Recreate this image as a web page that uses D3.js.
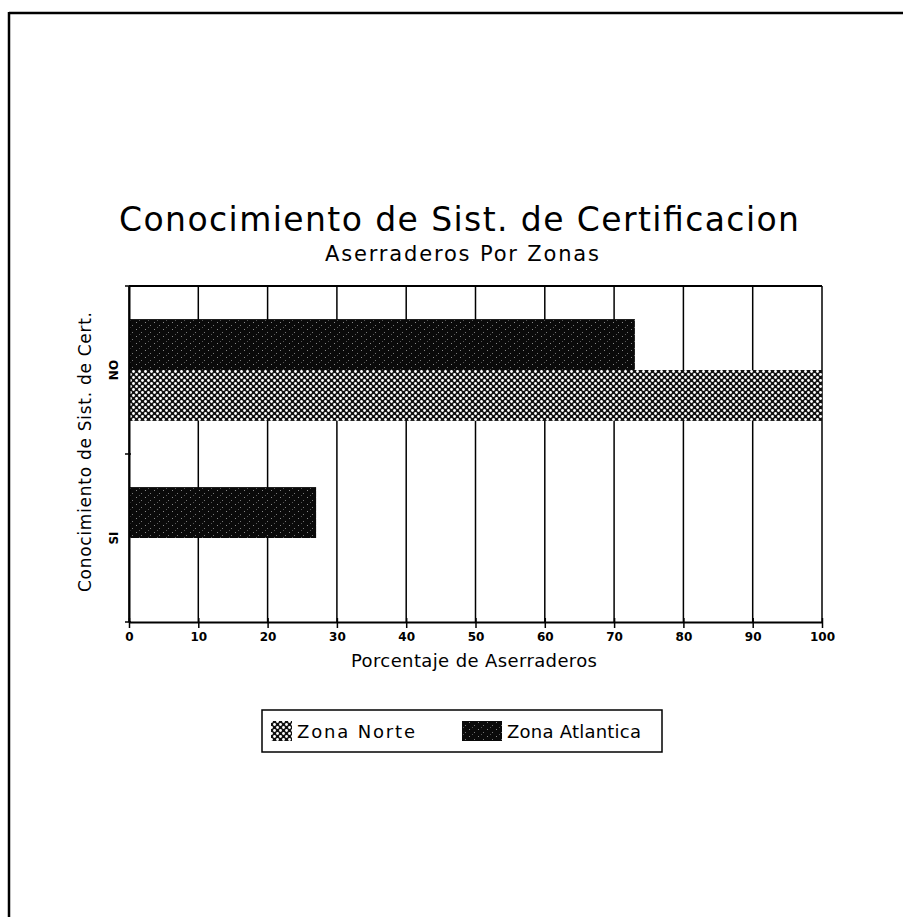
<!DOCTYPE html>
<html>
<head>
<meta charset="utf-8">
<script src="https://cdn.jsdelivr.net/npm/d3@7"></script>
<style>
  html, body { margin: 0; padding: 0; background: #fff; }
  svg { display: block; }
  text { font-family: "DejaVu Sans", "Liberation Sans", sans-serif; fill: #000; }
</style>
</head>
<body>
<svg id="chart" width="903" height="917"></svg>
<script>
// ---- data ----
const categories = ["NO", "SI"];
const seriesNames = ["Zona Atlantica", "Zona Norte"];
const zonaAtlantica = [73, 27];
const zonaNorte = [100, 0];
const xTicks = [0, 10, 20, 30, 40, 50, 60, 70, 80, 90, 100];
const titleText = "Conocimiento de Sist. de Certificacion";
const subtitleText = "Aserraderos Por Zonas";
const xTitle = "Porcentaje de Aserraderos";
const yTitle = "Conocimiento de Sist. de Cert.";

const seriesValues = { "Zona Atlantica": zonaAtlantica, "Zona Norte": zonaNorte };

const svg = d3.select("#chart");

// ---- patterns ----
const defs = svg.append("defs");
const pN = defs.append("pattern").attr("id", "patNorte")
  .attr("patternUnits", "userSpaceOnUse").attr("width", 6).attr("height", 6);
pN.append("rect").attr("width", 6).attr("height", 6).attr("fill", "#111");
pN.append("circle").attr("cx", 1.5).attr("cy", 1.5).attr("r", 1.4).attr("fill", "#fff");
pN.append("circle").attr("cx", 4.5).attr("cy", 4.5).attr("r", 1.4).attr("fill", "#fff");

const pA = defs.append("pattern").attr("id", "patAtl")
  .attr("patternUnits", "userSpaceOnUse").attr("width", 9).attr("height", 7);
pA.append("rect").attr("width", 9).attr("height", 7).attr("fill", "#0a0a0a");
pA.append("rect").attr("x", 1).attr("y", 1).attr("width", 1).attr("height", 1).attr("fill", "#888");
pA.append("rect").attr("x", 6).attr("y", 4).attr("width", 1).attr("height", 1).attr("fill", "#777");
pA.append("rect").attr("x", 4).attr("y", 6).attr("width", 1).attr("height", 1).attr("fill", "#555");

const fills = { "Zona Atlantica": "url(#patAtl)", "Zona Norte": "url(#patNorte)" };

// ---- page border ----
svg.append("line").attr("x1", 9).attr("y1", 13).attr("x2", 903).attr("y2", 13)
  .attr("stroke", "#000").attr("stroke-width", 2.5);
svg.append("line").attr("x1", 9).attr("y1", 12).attr("x2", 9).attr("y2", 917)
  .attr("stroke", "#000").attr("stroke-width", 2.5);

// ---- layout ----
const mLeft = 129, mRight = 822, mTop = 286, mBottom = 622;

const x = d3.scaleLinear().domain([0, 100]).range([mLeft, mRight]);
const y0 = d3.scaleBand().domain(categories).range([mTop, mBottom]).padding(0);
const y1 = d3.scaleBand().domain(seriesNames).range([0, y0.bandwidth()])
  .paddingInner(0).paddingOuter(0.65);

// gridlines
svg.append("g").selectAll("line").data(xTicks).join("line")
  .attr("x1", d => x(d)).attr("x2", d => x(d))
  .attr("y1", mTop).attr("y2", mBottom)
  .attr("stroke", "#000").attr("stroke-width", 1.5);

// bars
const groups = svg.append("g").selectAll("g").data(categories).join("g")
  .attr("transform", d => `translate(0,${y0(d)})`);
groups.selectAll("rect")
  .data((c, i) => seriesNames.map(s => ({ s, v: seriesValues[s][i] })))
  .join("rect")
  .attr("x", x(0))
  .attr("y", d => y1(d.s))
  .attr("width", d => x(d.v) - x(0))
  .attr("height", y1.bandwidth())
  .attr("fill", d => fills[d.s]);

// frame top
svg.append("line").attr("x1", mLeft).attr("x2", mRight).attr("y1", mTop).attr("y2", mTop)
  .attr("stroke", "#000").attr("stroke-width", 2);

// x axis
const xAxis = svg.append("g").attr("transform", `translate(0,${mBottom})`)
  .call(d3.axisBottom(x).tickValues(xTicks).tickSize(6).tickSizeOuter(0).tickPadding(4));
xAxis.select(".domain").attr("stroke-width", 2);
xAxis.selectAll(".tick line").attr("stroke-width", 1.5).attr("y1", -4);
xAxis.selectAll(".tick text").attr("font-size", 12).attr("font-weight", "bold")
  .style("font-family", "'DejaVu Sans', sans-serif");

// y axis
const yAxis = svg.append("g").attr("transform", `translate(${mLeft},0)`)
  .call(d3.axisLeft(y0).tickSize(0).tickPadding(10));
yAxis.select(".domain").attr("stroke-width", 2);
yAxis.selectAll(".tick text")
  .attr("font-size", 12).attr("font-weight", "bold")
  .attr("text-anchor", "middle")
  .attr("transform", "rotate(-90)")
  .attr("x", 0).attr("y", -15).attr("dy", "0.35em");
// separator tick between categories and at ends
svg.append("g").selectAll("line").data([mTop, y0("SI"), mBottom]).join("line")
  .attr("x1", mLeft - 4).attr("x2", mLeft + 2).attr("y1", d => d).attr("y2", d => d)
  .attr("stroke", "#000").attr("stroke-width", 1.5);

// titles
svg.append("text").attr("x", 459).attr("y", 231).attr("text-anchor", "middle")
  .attr("font-size", 33).attr("textLength", 680).attr("lengthAdjust", "spacing")
  .text(titleText);
svg.append("text").attr("x", 462).attr("y", 261).attr("text-anchor", "middle")
  .attr("font-size", 21).attr("textLength", 274).attr("lengthAdjust", "spacing")
  .text(subtitleText);
svg.append("text").attr("x", 474).attr("y", 667).attr("text-anchor", "middle")
  .attr("font-size", 18).attr("textLength", 246).attr("lengthAdjust", "spacing")
  .text(xTitle);
svg.append("text").attr("transform", "translate(91,452) rotate(-90)")
  .attr("text-anchor", "middle").attr("font-size", 17)
  .attr("textLength", 280).attr("lengthAdjust", "spacing").text(yTitle);

// legend
const legend = svg.append("g");
legend.append("rect").attr("x", 262).attr("y", 710).attr("width", 400).attr("height", 42)
  .attr("fill", "none").attr("stroke", "#000").attr("stroke-width", 1.5);
const legendItems = [
  { s: "Zona Norte", x: 271, w: 21, tl: 118 },
  { s: "Zona Atlantica", x: 462, w: 40, tl: 134 }
];
legendItems.forEach(it => {
  legend.append("rect").attr("x", it.x).attr("y", 721).attr("width", it.w).attr("height", 20)
    .attr("fill", fills[it.s]);
  legend.append("text").attr("x", it.x + it.w + 5).attr("y", 738)
    .attr("font-size", 18).attr("textLength", it.tl).attr("lengthAdjust", "spacing")
    .text(it.s);
});
</script>
</body>
</html>
